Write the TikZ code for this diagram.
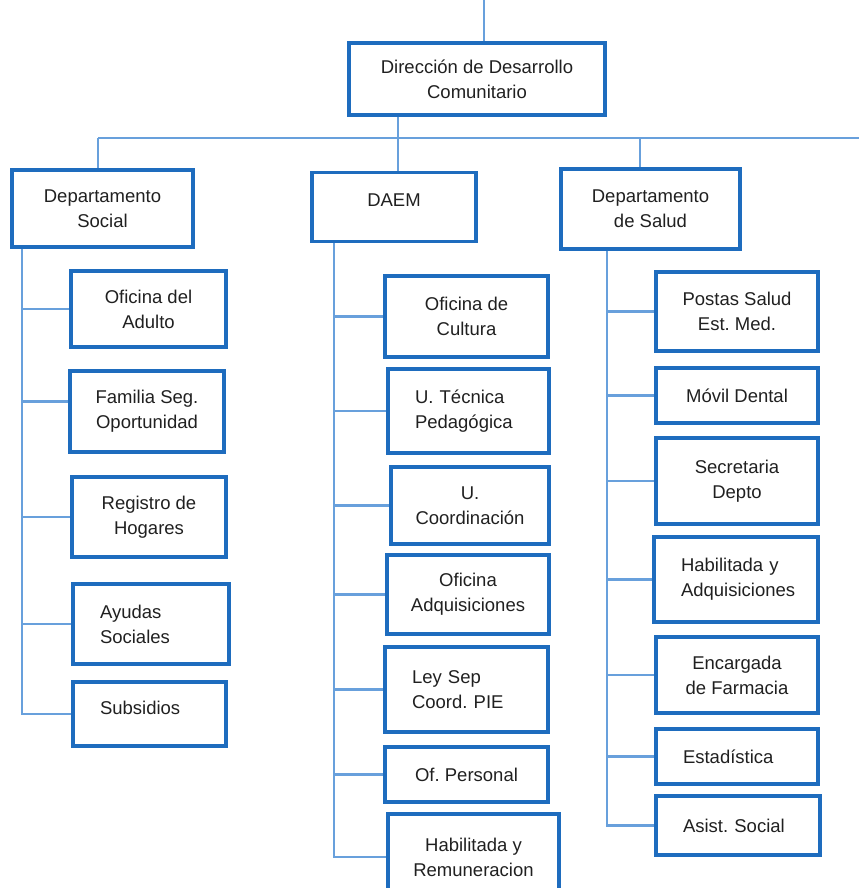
\documentclass[tikz,border=0pt]{standalone}
\usepackage{fontspec}
\setmainfont{Liberation Sans}
\usepackage{tikz}
\definecolor{boxblue}{RGB}{30, 108, 190}
\definecolor{lineblue}{RGB}{104, 160, 220}
\definecolor{ink}{RGB}{32, 32, 32}
\frenchspacing

\begin{document}
\begin{tikzpicture}[x=1pt, y=-1pt,
  unit/.style={draw=boxblue, line width=3.2pt, rectangle, align=center, text=ink,
    inner sep=0pt, font=\fontsize{18.5}{25}\selectfont},
  leftunit/.style={unit, align=left, inner xsep=27pt, text width=#1},
  raised/.style={text depth=13pt},
  link/.style={lineblue, line width=2.8pt}]

  \useasboundingbox (0, 0) rectangle (859, 888);

  \pgfmathsetmacro{\spa}{22}
  \pgfmathsetmacro{\spb}{334}
  \pgfmathsetmacro{\spc}{607}
  \pgfmathsetmacro{\busy}{138}

  % top levels
  \node[unit, minimum width=256pt, minimum height=72pt] (dir) at (477, 79)
    {Dirección de Desarrollo\\Comunitario};
  \node[unit, minimum width=181pt, minimum height=77pt] (social) at (102.5, 208.5)
    {Departamento\\Social};
  \node[unit, raised, minimum width=164pt, minimum height=69pt] (daem) at (394, 207)
    {DAEM};
  \node[unit, minimum width=179pt, minimum height=80pt] (salud) at (650.5, 209)
    {Departamento\\de Salud};

  % Departamento Social
  \node[unit, minimum width=155pt, minimum height=76pt] (adulto) at (148.5, 309)
    {Oficina del\\Adulto};
  \node[unit, minimum width=154pt, minimum height=81pt] (familia) at (147, 411.5)
    {Familia Seg.\\Oportunidad};
  \node[unit, minimum width=154pt, minimum height=80pt] (registro) at (149, 517)
    {Registro de\\Hogares};
  \node[leftunit=102pt, minimum height=80pt] (ayudas) at (151, 624)
    {Ayudas\\Sociales};
  \node[leftunit=99pt, raised, minimum height=64pt] (subsidios) at (149.5, 714)
    {Subsidios};

  % DAEM
  \node[unit, minimum width=163pt, minimum height=81pt] (cultura) at (466.5, 316.5)
    {Oficina de\\Cultura};
  \node[leftunit=107pt, minimum height=84pt] (tecnica) at (468.5, 411)
    {U. Técnica\\Pedagógica};
  \node[unit, minimum width=158pt, minimum height=77pt] (ucoord) at (470, 505.5)
    {U.\\Coordinación};
  \node[unit, minimum width=162pt, minimum height=79pt] (adquis) at (468, 594.5)
    {Oficina\\Adquisiciones};
  \node[leftunit=109pt, minimum height=85pt] (leysep) at (466.5, 689.5)
    {Ley Sep\\Coord. PIE};
  \node[unit, minimum width=163pt, minimum height=55pt] (personal) at (466.5, 774.5)
    {Of. Personal};
  \node[unit, minimum width=171pt, minimum height=86pt] (remun) at (473.5, 857)
    {Habilitada y\\Remuneracion};

  % Departamento de Salud
  \node[unit, minimum width=162pt, minimum height=79pt] (postas) at (737, 311.5)
    {Postas Salud\\Est. Med.};
  \node[unit, minimum width=162pt, minimum height=55pt] (movil) at (737, 395.5)
    {Móvil Dental};
  \node[unit, minimum width=162pt, minimum height=86pt] (secret) at (737, 481)
    {Secretaria\\Depto};
  \node[leftunit=110pt, minimum height=85pt] (habadq) at (736, 579.5)
    {Habilitada y\\Adquisiciones};
  \node[unit, minimum width=162pt, minimum height=76pt] (farmacia) at (737, 675)
    {Encargada\\de Farmacia};
  \node[leftunit=108pt, minimum height=55pt] (estad) at (737, 756.5)
    {Estadística};
  \node[leftunit=110pt, minimum height=59pt] (asist) at (738, 825.5)
    {Asist. Social};

  % bus
  \coordinate (top) at (484, 0);
  \coordinate (busl) at (98, \busy);
  \coordinate (busr) at (859, \busy);
  \coordinate (hub) at (398, \busy);
  \coordinate (dropc) at (640, \busy);
  \coordinate (spa) at (\spa, 0);
  \coordinate (spb) at (\spb, 0);
  \coordinate (spc) at (\spc, 0);

  \draw[link] (top) -- (top |- dir.north);
  \draw[link] (hub |- dir.south) -- (hub |- daem.north);
  \draw[link] (busl) -- (busr);
  \draw[link] (busl) -- (busl |- social.north);
  \draw[link] (dropc) -- (dropc |- salud.north);

  % spines
  \draw[link] (spa |- social.south) |- (subsidios.west);
  \foreach \n in {adulto, registro, ayudas}
    \draw[link] (spa |- \n.west) -- (\n.west);
  \draw[link] ([yshift=10pt]familia.west) coordinate (fb) -- (spa |- fb);

  \draw[link] (spb |- daem.south) |- (remun.west);
  \foreach \n in {cultura, tecnica, ucoord, adquis, leysep, personal}
    \draw[link] (spb |- \n.west) -- (\n.west);

  \draw[link] (spc |- salud.south) |- (asist.west);
  \foreach \n in {postas, movil, secret, habadq, farmacia, estad}
    \draw[link] (spc |- \n.west) -- (\n.west);

\end{tikzpicture}
\end{document}
